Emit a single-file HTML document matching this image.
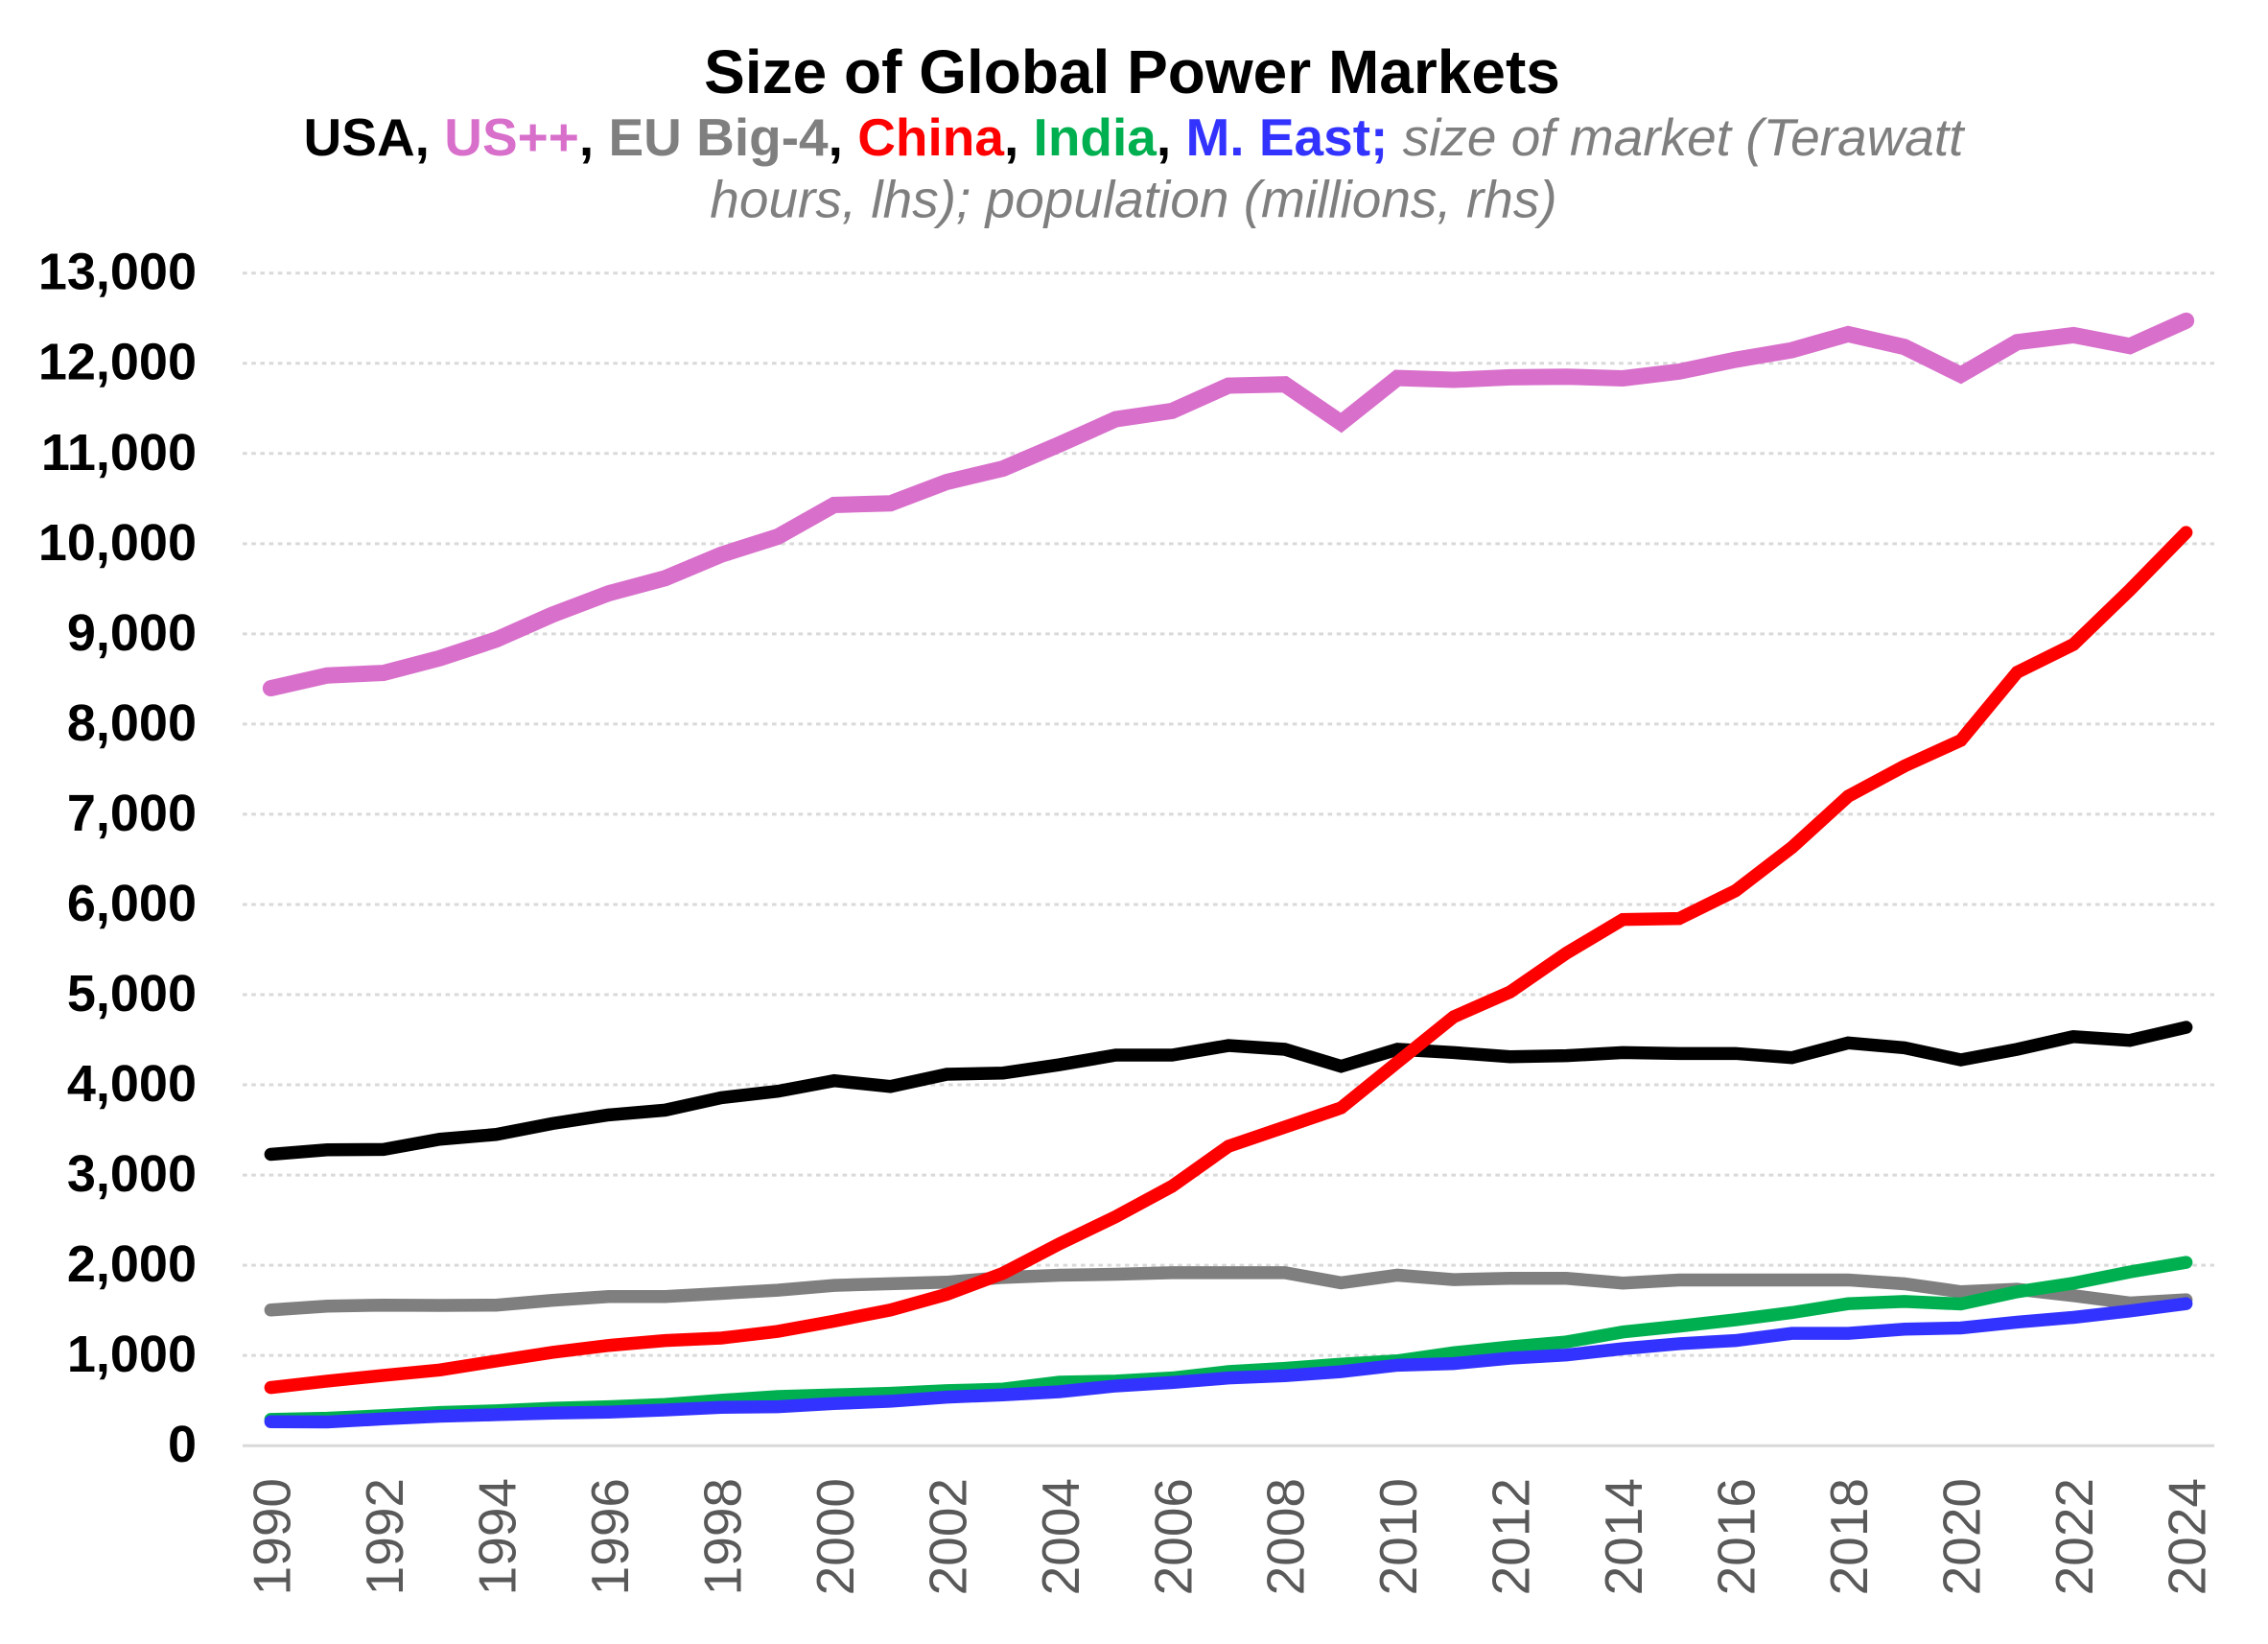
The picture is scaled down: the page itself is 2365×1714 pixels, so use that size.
<!DOCTYPE html>
<html>
<head>
<meta charset="utf-8">
<title>Size of Global Power Markets</title>
<style>
html,body{margin:0;padding:0;background:#fff;width:2365px;height:1714px;overflow:hidden}
svg{display:block;font-family:"Liberation Sans",Arial,sans-serif}
</style>
</head>
<body>
<svg id="chart" xmlns="http://www.w3.org/2000/svg" width="2365" height="1714" viewBox="0 0 2365 1714">
  <rect x="0" y="0" width="2365" height="1714" fill="#fff"/>
  <text x="1180.5" y="97" text-anchor="middle" font-size="64" font-weight="700" fill="#000">Size of Global Power Markets</text>
  <text x="1182" y="162" text-anchor="middle" font-size="55" fill="#7f7f7f" font-style="italic"><tspan font-weight="700" font-style="normal" fill="#000">USA, </tspan><tspan font-weight="700" font-style="normal" fill="#d86fcb">US++</tspan><tspan font-weight="700" font-style="normal" fill="#000">, </tspan><tspan font-weight="700" font-style="normal" fill="#7f7f7f">EU Big-4</tspan><tspan font-weight="700" font-style="normal" fill="#000">, </tspan><tspan font-weight="700" font-style="normal" fill="#ff0000">China</tspan><tspan font-weight="700" font-style="normal" fill="#000">, </tspan><tspan font-weight="700" font-style="normal" fill="#00b050">India</tspan><tspan font-weight="700" font-style="normal" fill="#000">, </tspan><tspan font-weight="700" font-style="normal" fill="#3333ff">M. East;</tspan> size of market (Terawatt</text>
  <text x="1182" y="226.5" text-anchor="middle" font-size="55" fill="#7f7f7f" font-style="italic">hours, lhs); population (millions, rhs)</text>
  <g id="grid"></g>
  <g id="yticks"></g>
  <g id="xticks"></g>
  <g id="series"></g>
</svg>
<script>
const years = [1990,1991,1992,1993,1994,1995,1996,1997,1998,1999,2000,2001,2002,2003,2004,2005,2006,2007,2008,2009,2010,2011,2012,2013,2014,2015,2016,2017,2018,2019,2020,2021,2022,2023,2024];
const yTickValues = [0,1000,2000,3000,4000,5000,6000,7000,8000,9000,10000,11000,12000,13000];
const usa = [3230,3280,3284,3397,3450,3571,3667,3720,3858,3929,4046,3982,4117,4131,4223,4330,4330,4436,4394,4206,4394,4358,4312,4323,4358,4348,4348,4301,4465,4411,4277,4394,4535,4493,4638];
const usPlus = [8397,8539,8567,8730,8936,9213,9450,9617,9879,10078,10429,10447,10684,10833,11100,11380,11472,11752,11766,11340,11837,11816,11844,11851,11833,11908,12039,12145,12323,12181,11872,12234,12312,12191,12472];
const euBig4 = [1504,1547,1558,1554,1558,1611,1653,1653,1688,1724,1777,1795,1812,1865,1890,1900,1918,1918,1918,1805,1890,1841,1855,1855,1802,1837,1837,1837,1837,1794,1706,1734,1663,1582,1617];
const china = [644,715,779,839,938,1034,1111,1165,1193,1267,1381,1504,1678,1912,2238,2539,2876,3319,3532,3745,4251,4755,5030,5461,5833,5844,6152,6631,7199,7535,7819,8574,8883,9486,10124];
const india = [290,304,333,368,386,414,432,457,503,545,563,580,609,627,704,716,750,821,857,903,940,1030,1095,1150,1260,1325,1395,1475,1574,1599,1571,1706,1801,1926,2032];
const mEast = [265,262,297,326,343,361,372,396,425,432,467,492,538,563,598,662,700,750,775,820,892,910,970,1005,1075,1130,1165,1245,1245,1291,1305,1369,1422,1493,1574];

const NS = 'http://www.w3.org/2000/svg';
const plotLeft = 253, plotRight = 2309, plotTop = 284.7, plotBottom = 1507.2, yMax = 13000;
const band = (plotRight - plotLeft) / years.length;
function xScale(i) { return plotLeft + band * (i + 0.5); }
function yScale(v) { return plotBottom - (v / yMax) * (plotBottom - plotTop); }

const grid = document.getElementById('grid');
const yticks = document.getElementById('yticks');
yTickValues.forEach(function (v) {
  const line = document.createElementNS(NS, 'line');
  
  
  line.setAttribute('x1', plotLeft);
  line.setAttribute('x2', plotRight);
  line.setAttribute('y1', yScale(v));
  line.setAttribute('y2', yScale(v));
  line.setAttribute('stroke', '#d9d9d9');
  line.setAttribute('stroke-width', 3);
  if (v !== 0) line.setAttribute('stroke-dasharray', '4.6 4.6');
  grid.appendChild(line);

  const label = document.createElementNS(NS, 'text');
  
  
  label.setAttribute('x', 205);
  label.setAttribute('y', yScale(v) + 17);
  label.setAttribute('text-anchor', 'end');
  label.setAttribute('font-size', 54);
  label.setAttribute('font-weight', 700);
  label.setAttribute('fill', '#000');
  label.textContent = v.toLocaleString('en-US');
  yticks.appendChild(label);
});

const xticks = document.getElementById('xticks');
years.forEach(function (year, i) {
  if (i % 2 !== 0) return;
  const label = document.createElementNS(NS, 'text');
  const bx = xScale(i) + 20;
  
  
  label.setAttribute('transform', 'translate(' + bx + ',1541) rotate(-90)');
  label.setAttribute('text-anchor', 'end');
  label.setAttribute('font-size', 55);
  label.setAttribute('fill', '#595959');
  label.textContent = year;
  xticks.appendChild(label);
});

const seriesGroup = document.getElementById('series');
function drawSeries(values, name, color, width) {
  const path = document.createElementNS(NS, 'path');
  
  
  path.setAttribute('d', values.map(function (v, i) {
    return (i ? 'L' : 'M') + xScale(i).toFixed(2) + ' ' + yScale(v).toFixed(2);
  }).join(' '));
  path.setAttribute('fill', 'none');
  path.setAttribute('stroke', color);
  path.setAttribute('stroke-width', width);
  path.setAttribute('stroke-linecap', 'round');
  path.setAttribute('stroke-linejoin', 'miter');
  path.setAttribute('stroke-miterlimit', 10);
  seriesGroup.appendChild(path);
}
drawSeries(usPlus, 'line-us-plus', '#d86fcb', 17);
drawSeries(usa, 'line-usa', '#000000', 13.5);
drawSeries(euBig4, 'line-eu-big-4', '#7f7f7f', 13.5);
drawSeries(china, 'line-china', '#ff0000', 13.5);
drawSeries(india, 'line-india', '#00b050', 13.5);
drawSeries(mEast, 'line-middle-east', '#3333ff', 13.5);
</script>
</body>
</html>
